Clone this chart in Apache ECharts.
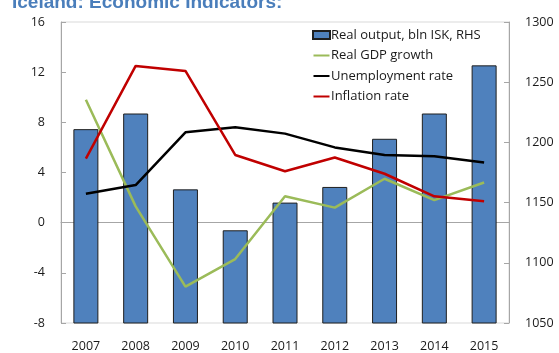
<!DOCTYPE html>
<html>
<head>
<meta charset="utf-8">
<script src="https://cdn.jsdelivr.net/npm/echarts@6/dist/echarts.min.js"></script>
<style>
  html, body { margin: 0; padding: 0; background: #fff; }
  #chart { width: 559px; height: 353px; }
</style>
</head>
<body>
<div id="chart"></div>
<script>
// Iceland economic indicators, 2007-2015
const years = ['2007', '2008', '2009', '2010', '2011', '2012', '2013', '2014', '2015'];
const realOutput = [1211, 1224, 1161, 1127, 1150, 1163, 1203, 1224, 1264]; // bln ISK, right axis
const gdpGrowth = [9.8, 1.3, -5.1, -2.9, 2.1, 1.2, 3.5, 1.8, 3.2];         // %
const unemployment = [2.3, 3.0, 7.2, 7.6, 7.1, 6.0, 5.4, 5.3, 4.8];         // %
const inflation = [5.1, 12.5, 12.1, 5.4, 4.1, 5.2, 3.9, 2.1, 1.7];          // %

const leftTicks = { min: -8, max: 16, interval: 4 };
const rightTicks = { min: 1050, max: 1300, interval: 50 };

const FONT = 'Open Sans';
// thin horizontal stroke centred in the legend item box
const LINE_ICON = 'path://M0,0 M0,3 L16,3 L16,5 L0,5 Z M16,8';

const chart = echarts.init(document.getElementById('chart'));

chart.setOption({
  animation: false,
  backgroundColor: '#ffffff',
  title: {
    text: 'Iceland: Economic Indicators:',
    left: 7,
    top: -12,
    textStyle: { fontFamily: 'Liberation Sans', fontWeight: 'bold', fontSize: 19, color: '#4a7ebb' }
  },
  grid: { left: 61, right: 50, top: 22, bottom: 29, show: true, borderColor: '#d9d9d9', borderWidth: 1 },
  legend: {
    orient: 'vertical',
    left: 307,
    top: 23,
    itemWidth: 17,
    itemHeight: 8,
    itemGap: 6.5,
    textStyle: { fontFamily: FONT, fontSize: 13, color: '#1a1a1a', lineHeight: 14, padding: [0, 0, 0, -4] },
    data: [
      { name: 'Real output, bln ISK, RHS', icon: 'rect' },
      { name: 'Real GDP growth', icon: LINE_ICON },
      { name: 'Unemployment rate', icon: LINE_ICON },
      { name: 'Inflation rate', icon: LINE_ICON }
    ]
  },
  xAxis: {
    type: 'category',
    data: years,
    axisLine: { lineStyle: { color: '#a6a6a6', width: 1 } },
    axisTick: { show: false },
    axisLabel: { fontFamily: FONT, fontSize: 12.5, color: '#1a1a1a', margin: 17 }
  },
  yAxis: [
    {
      type: 'value',
      min: leftTicks.min, max: leftTicks.max, interval: leftTicks.interval,
      axisLine: { show: true, lineStyle: { color: '#a6a6a6' } },
      axisTick: { show: true, inside: true, length: 5, lineStyle: { color: '#a6a6a6' } },
      splitLine: { show: false },
      axisLabel: { fontFamily: FONT, fontSize: 12.5, color: '#1a1a1a', margin: 16 }
    },
    {
      type: 'value',
      min: rightTicks.min, max: rightTicks.max, interval: rightTicks.interval,
      axisLine: { show: true, lineStyle: { color: '#a6a6a6' } },
      axisTick: { show: true, inside: true, length: 5, lineStyle: { color: '#a6a6a6' } },
      splitLine: { show: false },
      axisLabel: {
        fontFamily: FONT, fontSize: 12.5, color: '#1a1a1a', margin: 16,
        formatter: (v) => String(v)
      }
    }
  ],
  series: [
    {
      name: 'Real output, bln ISK, RHS',
      type: 'bar',
      yAxisIndex: 1,
      data: realOutput,
      barWidth: 25,
      itemStyle: { color: '#4f81bd', borderColor: '#1f1f1f', borderWidth: 1 }
    },
    {
      name: 'Real GDP growth',
      type: 'line',
      data: gdpGrowth,
      symbol: 'none',
      lineStyle: { color: '#9bbb59', width: 2.5 },
      itemStyle: { color: '#9bbb59' }
    },
    {
      name: 'Unemployment rate',
      type: 'line',
      data: unemployment,
      symbol: 'none',
      lineStyle: { color: '#000000', width: 2.5 },
      itemStyle: { color: '#000000' }
    },
    {
      name: 'Inflation rate',
      type: 'line',
      data: inflation,
      symbol: 'none',
      lineStyle: { color: '#c00000', width: 2.5 },
      itemStyle: { color: '#c00000' }
    }
  ]
});
</script>
</body>
</html>
